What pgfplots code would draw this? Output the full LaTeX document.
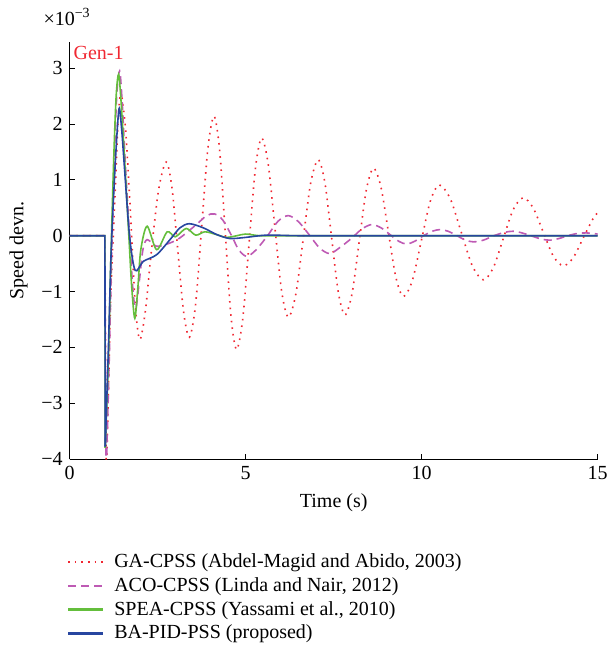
\documentclass[border=0pt]{standalone}
\usepackage{fontspec}
\setmainfont{Liberation Serif}
\usepackage{pgfplots}
\pgfplotsset{compat=1.18}
\definecolor{cga}{RGB}{240,40,50}
\definecolor{caco}{RGB}{190,90,180}
\definecolor{cspea}{RGB}{100,190,60}
\definecolor{cba}{RGB}{40,70,160}
\begin{document}
\fontsize{10}{12}\selectfont
\begin{tikzpicture}
\begin{axis}[
  name=ax, at={(0pt,0pt)}, anchor=south west,
  scale only axis, width=264pt, height=208.5pt,
  xmin=0, xmax=15, ymin=-4, ymax=3.47,
  axis lines*=left,
  axis line style={line width=0.5pt, black},
  xtick={0,5,10,15}, xticklabels={0,5,10,15},
  ytick={-4,-3,-2,-1,0,1,2,3}, yticklabels={−4,−3,−2,−1,0,1,2,3},
  tick align=inside, major tick length=2.5pt,
  tick style={black, line width=0.5pt},
  xlabel={Time (s)}, ylabel={Speed devn.},
  clip mode=individual,
  every axis plot/.append style={line width=0.8pt},
  legend cell align=left,
  legend style={at={(rel axis cs:0,0)}, anchor=north west, yshift=-45pt, xshift=-1.5pt,
    draw=none, fill=none, inner sep=0pt, row sep=-0.5pt, column sep=3pt,
    font=\fontsize{10}{12}\selectfont},
  legend image code/.code={\draw[#1, line width=1.1pt] (0pt,0pt) -- (17.5pt,0pt);},
]
% step parts
\addplot[cga, dash pattern=on 0.8pt off 2.5pt, forget plot] coordinates {(0,0)(1.0,0)(1.04,-4.4)};
\addplot[caco, dash pattern=on 4pt off 2.5pt, forget plot] coordinates {(0,0)(1.0,0)(1.03,-4.4)};
\addplot[cspea, forget plot] coordinates {(0,0)(1.0,0)(1.01,-3.8)};
% GA-CPSS
\addplot[cga, dash pattern=on 0.8pt off 2.5pt, smooth] coordinates {
(1.04,-4.4)(1.10,-2.8)(1.17,-1.0)(1.26,0.3)(1.32,1.24)(1.38,2.1)(1.45,2.58)(1.52,2.3)(1.60,1.8)(1.73,0.37)(1.86,-1.21)(1.99,-1.86)(2.15,-1.35)(2.3,-0.4)(2.52,0.8)(2.74,1.32)(2.905,0.86)(3.07,-0.25)(3.235,-1.36)(3.40,-1.82)(3.575,-1.24)(3.75,0.16)(3.925,1.56)(4.10,2.14)(4.26,1.53)(4.42,0.05)(4.58,-1.43)(4.74,-2.04)(4.918,-1.48)(5.095,-0.145)(5.273,1.19)(5.45,1.75)(5.64,1.28)(5.83,0.145)(6.02,-0.99)(6.21,-1.46)(6.423,-1.05)(6.635,-0.05)(6.848,0.95)(7.06,1.36)(7.25,0.95)(7.44,-0.03)(7.63,-1.01)(7.82,-1.42)(8.023,-1.03)(8.225,-0.105)(8.428,0.825)(8.63,1.21)(8.843,0.87)(9.055,0.06)(9.268,-0.75)(9.48,-1.09)(9.735,-0.80)(9.99,-0.09)(10.245,0.62)(10.50,0.91)(10.813,0.66)(11.125,0.06)(11.438,-0.54)(11.75,-0.79)(12.033,-0.575)(12.315,-0.055)(12.598,0.465)(12.88,0.68)(13.165,0.50)(13.45,0.07)(13.735,-0.36)(14.02,-0.54)(14.303,-0.395)(14.585,-0.045)(14.868,0.305)(15.0,0.41)};
\addlegendentry{GA-CPSS (Abdel-Magid and Abido, 2003)}
% ACO-CPSS
\addplot[caco, dash pattern=on 4pt off 2.5pt, smooth] coordinates {
(1.03,-4.4)(1.12,-2.3)(1.19,-0.4)(1.27,1.4)(1.34,2.55)(1.42,2.95)(1.49,2.4)(1.58,1.3)(1.70,0.0)(1.80,-1.0)(1.88,-1.3)(1.98,-0.8)(2.08,-0.25)(2.2,-0.07)(2.47,-0.19)(2.85,-0.13)(3.13,-0.04)(3.6,0.2)(3.89,0.36)(4.12,0.39)(4.35,0.28)(4.6,0.0)(4.8,-0.25)(5.03,-0.37)(5.3,-0.25)(5.62,0.0)(5.92,0.26)(6.21,0.36)(6.5,0.25)(6.8,0.02)(7.1,-0.22)(7.39,-0.32)(7.7,-0.2)(8.0,-0.05)(8.3,0.12)(8.58,0.20)(8.85,0.14)(9.1,0.02)(9.35,-0.1)(9.57,-0.15)(9.8,-0.1)(10.05,0)(10.3,0.08)(10.52,0.11)(10.75,0.08)(11.0,0)(11.25,-0.08)(11.47,-0.11)(11.75,-0.08)(12.05,0)(12.35,0.06)(12.6,0.08)(12.85,0.05)(13.1,0)(13.4,-0.06)(13.64,-0.08)(13.9,-0.05)(14.15,0)(14.42,0.04)(14.68,0.05)(15,0.03)};
\addlegendentry{ACO-CPSS (Linda and Nair, 2012)}
% SPEA-CPSS
\addplot[cspea, smooth] coordinates {
(1.01,-3.8)(1.10,-2.2)(1.17,-0.4)(1.25,1.36)(1.32,2.5)(1.39,2.89)(1.46,2.4)(1.56,1.36)(1.68,0.0)(1.76,-0.9)(1.85,-1.48)(1.94,-0.9)(2.02,-0.25)(2.20,0.17)(2.47,-0.25)(2.77,0.07)(3.0,-0.02)(3.31,0.13)(3.58,0.01)(3.84,0.07)(4.17,0.02)(4.45,-0.03)(4.75,0.0)(5.0,0.03)(5.4,0.0)(6,0)(8,0)(15,0)};
\addlegendentry{SPEA-CPSS (Yassami et al., 2010)}
% BA-PID-PSS
\addplot[cba, forget plot] coordinates {(0,0)(1.0,0)(1.01,-3.78)};
\addplot[cba, smooth] coordinates {
(1.01,-3.78)(1.10,-2.0)(1.18,-0.25)(1.30,1.36)(1.40,2.27)(1.47,1.95)(1.54,1.36)(1.70,0.0)(1.86,-0.62)(2.09,-0.46)(2.47,-0.34)(2.85,-0.07)(3.13,0.14)(3.40,0.215)(3.80,0.14)(4.18,0.02)(4.55,-0.05)(5.0,-0.03)(5.6,0.01)(6.5,0.0)(8,0.0)(10,0.0)(12,0)(15,0)};
\addlegendentry{BA-PID-PSS (proposed)}
\node[anchor=west, text=cga, inner sep=0pt] at (axis cs:0.1,3.28) {Gen-1};
\end{axis}
\node[anchor=base, inner sep=0pt] at ([xshift=-1.3pt, yshift=8.5pt]ax.north west) {×10\textsuperscript{−3}};
\path (-34.85pt,-95.5pt) rectangle (268.15pt,229.5pt);
\end{tikzpicture}
\end{document}
